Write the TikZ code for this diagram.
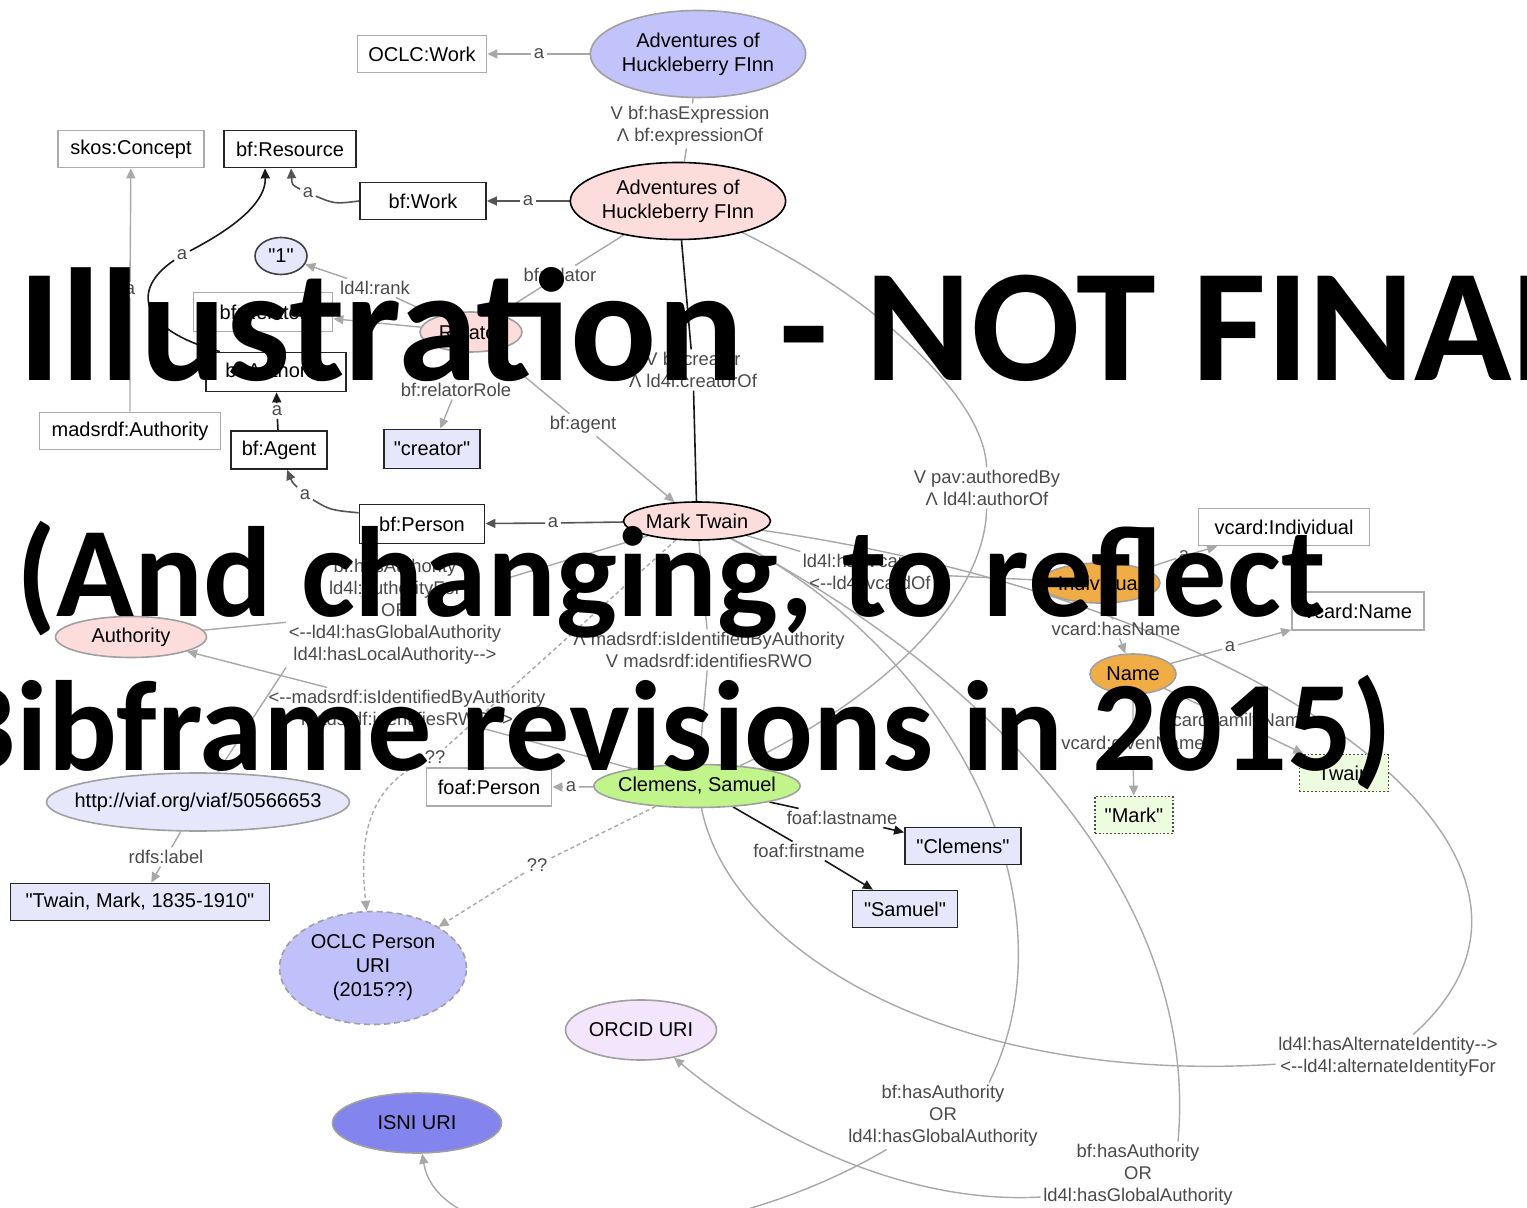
\documentclass[tikz,border=0pt]{standalone}
\usepackage{fontspec}
\setmainfont{Liberation Sans}[Ligatures=TeXOff]
\newfontfamily\ovfont{Carlito}
\usetikzlibrary{arrows.meta,shapes.geometric}
\pgfdeclarelayer{bg}
\pgfsetlayers{bg,main}
\definecolor{boxgray}{HTML}{ABABAB}
\definecolor{ellgray}{HTML}{A0A0A0}
\definecolor{edgegray}{HTML}{A8A8A8}
\definecolor{darkedge}{HTML}{555555}
\definecolor{labgray}{HTML}{4A4A4A}
\definecolor{pinkA}{HTML}{FDDCDC}
\definecolor{blueA}{HTML}{C3C3FB}
\definecolor{blueB}{HTML}{C0C0FA}
\definecolor{lavA}{HTML}{E7E7FB}
\definecolor{orangeA}{HTML}{F0AC45}
\definecolor{greenA}{HTML}{C2F48C}
\definecolor{litgreen}{HTML}{EDFCDE}
\definecolor{purpleA}{HTML}{F3E6FC}
\definecolor{isniA}{HTML}{8484EE}
\tikzset{
  nd/.style 2 args={minimum width=#1*0.5pt, minimum height=#2*0.5pt, inner sep=0pt, align=center},
  gbx/.style={rectangle, draw=boxgray, fill=white, line width=0.9pt},
  bbx/.style={rectangle, draw=black!85, fill=white, line width=0.9pt},
  lbx/.style={rectangle, draw=black!85, fill=lavA, line width=0.9pt},
  dbx/.style={rectangle, draw=black!70, densely dotted, fill=litgreen, line width=0.9pt},
  ell/.style={ellipse, line width=0.8pt},
  lab/.style={font=\fontsize{9.2}{11}\selectfont, text=labgray, inner sep=1.2pt, align=center},
  ge/.style={draw=edgegray, line width=0.7pt},
  de/.style={draw=darkedge, line width=0.8pt},
  be/.style={draw=black!90, line width=0.8pt},
  arw/.style={-{Triangle[length=5pt,width=4.5pt]}},
  dots/.style={dash pattern=on 2pt off 1.5pt},
  ovl/.style={inner sep=0pt, text=black},
}
\begin{document}
\begin{tikzpicture}[x=0.5pt,y=-0.5pt,
  every node/.style={font=\fontsize{10}{12}\selectfont}]
\path[use as bounding box] (0,0) rectangle (1527,1208);
\begin{pgfonlayer}{bg}
\fill[white] (0,0) rectangle (1527,1208);
\end{pgfonlayer}

% ---------- nodes ----------
\node[gbx,nd={129}{37}] (oclcwork) at (422,54) {OCLC:Work};
\node[ell,fill=blueA,draw=ellgray,nd={210}{87}] (ahf1) at (698,54) {Adventures of\\Huckleberry FInn};
\node[lab] (la1) at (539,54) {a};
\node[lab] (lexpr) at (690,126) {V bf:hasExpression\\Λ bf:expressionOf};
\node[ell,fill=pinkA,draw=black,nd={211}{77}] (ahf2) at (678,201) {Adventures of\\Huckleberry FInn};
\node[bbx,nd={126}{37}] (bfwork) at (423,201) {bf:Work};
\node[lab] (la2) at (528,201) {a};
\node[bbx,nd={132}{37}] (bfres) at (290,149) {bf:Resource};
\node[gbx,nd={146}{37}] (skos) at (131,149) {skos:Concept};
\node[lab] (la3) at (308,193) {a};
\node[ell,fill=lavA,draw=black!75,nd={52}{37}] (one) at (281,256) {"1"};
\node[ell,fill=pinkA,draw=ellgray,nd={102}{40}] (relator) at (471,332) {Relator};
\node[lab] (lrank) at (375,288) {ld4l:rank};
\node[gbx,nd={139}{39}] (bfrelator) at (263,312) {bf:Relator};
\node[bbx,nd={140}{39}] (bfauth) at (276,372) {bf:Authority};
\node[lab] (la4) at (182,255) {a};
\node[gbx,nd={181}{37}] (madsauth) at (130,431) {madsrdf:Authority};
\node[lab] (la5) at (130,290) {a};
\node[bbx,nd={96}{38}] (bfagent) at (279,450) {bf:Agent};
\node[lab] (la6) at (277,411) {a};
\node[lbx,nd={96}{39}] (creator) at (432,449) {"creator"};
\node[lab] (lrole) at (456,390) {bf:relatorRole};
\node[bbx,nd={125}{39}] (bfperson) at (422,524) {bf:Person};
\node[lab] (la7) at (305,495) {a};
\node[ell,fill=pinkA,draw=black,nd={147}{38}] (mt) at (697,521) {Mark Twain};
\node[lab] (la8) at (553,523) {a};
\node[lab] (lrelator) at (560,275) {bf:relator};
\node[lab] (lagent) at (583,425) {bf:agent};
\node[lab] (lcreator) at (693,370) {V bf:creator\\Λ ld4l:creatorOf};
\node[lab] (lpav) at (987,488) {V pav:authoredBy\\Λ ld4l:authorOf};
\node[ell,fill=pinkA,draw=ellgray,nd={151}{41}] (authority) at (131,637) {Authority};
\node[lab] (lhasauth) at (395,612) {bf:hasAuthority\\ld4l:authorityFor\\OR\\<-{}-ld4l:hasGlobalAuthority\\ld4l:hasLocalAuthority-{}->};
\node[lab] (lmadsrev) at (407,708) {<-{}-madsrdf:isIdentifiedByAuthority\\madsrdf:identifiesRWO-{}->};
\node[lab] (lmadsmt) at (709,650) {Λ madsrdf:isIdentifiedByAuthority\\V madsrdf:identifiesRWO};
\node[lab] (lvcard) at (870,572) {ld4l:hasVcard-{}->\\<-{}-ld4l:vcardOf};
\node[ell,fill=orangeA,draw=ellgray,nd={120}{40}] (individual) at (1100,583) {Individual};
\node[gbx,nd={171}{37}] (vcardind) at (1284,527) {vcard:Individual};
\node[lab] (la9) at (1184,556) {a};
\node[gbx,nd={132}{38}] (vcardname) at (1358,611) {vcard:Name};
\node[lab] (lhasname) at (1116,629) {vcard:hasName};
\node[ell,fill=orangeA,draw=ellgray,nd={86}{40}] (name) at (1133,674) {Name};
\node[lab] (la10) at (1230,647) {a};
\node[lab] (lgiven) at (1133,745) {vcard:givenName};
\node[dbx,nd={78}{37}] (mark) at (1134,815) {"Mark"};
\node[lab] (lfamily) at (1237,722) {vcard:familyName};
\node[dbx,nd={89}{37}] (twain) at (1344,773) {"Twain"};
\node[lab] (lalt) at (1388,1057) {ld4l:hasAlternateIdentity-{}->\\<-{}-ld4l:alternateIdentityFor};
\node[ell,fill=lavA,draw=ellgray,nd={303}{58},inner xsep=-9.5pt] (viaf) at (198,802) {http://viaf.org/viaf/50566653};
\node[lab] (lrdfs) at (166,857) {rdfs:label};
\node[lbx,nd={259}{37}] (twainlit) at (140,902) {"Twain, Mark, 1835-1910"};
\node[gbx,nd={125}{38}] (foafperson) at (489,787) {foaf:Person};
\node[lab] (la11) at (571,787) {a};
\node[ell,fill=greenA,draw=ellgray,nd={206}{43},inner xsep=-3pt] (clemens) at (697,786) {Clemens, Samuel};
\node[lab] (llast) at (842,818) {foaf:lastname};
\node[lbx,nd={116}{37}] (clemlit) at (963,846) {"Clemens"};
\node[lab] (lfirst) at (809,851) {foaf:firstname};
\node[lbx,nd={105}{37}] (samlit) at (905,909) {"Samuel"};
\node[lab] (lq1) at (435,757) {??};
\node[lab] (lq2) at (537,865) {??};
\node[ell,fill=blueB,draw=ellgray,densely dashed,nd={187}{113}] (oclcp) at (373,968) {OCLC Person\\URI\\(2015??)};
\node[ell,fill=purpleA,draw=ellgray,nd={151}{60}] (orcid) at (641,1030) {ORCID URI};
\node[ell,fill=isniA,draw=ellgray,nd={169}{60}] (isni) at (417,1123) {ISNI URI};
\node[lab] (lha1) at (943,1116) {bf:hasAuthority\\OR\\ld4l:hasGlobalAuthority};
\node[lab] (lha2) at (1138,1175) {bf:hasAuthority\\OR\\ld4l:hasGlobalAuthority};

% ---------- connectors ----------
\begin{pgfonlayer}{bg}
\draw[ge,arw] (ahf1) -- (la1) -- (oclcwork);
\draw[ge] (ahf1) -- (lexpr) -- (ahf2);
\draw[de,arw] (ahf2) -- (la2) -- (bfwork);
\draw[de,arw] (bfwork.west) .. controls (335,204) .. (la3) .. controls (292,185) .. (bfres);
\draw[ge,arw] (relator) -- (lrank) -- (one);
\draw[ge,arw] (relator) -- (bfrelator);
\draw[be,arw] (bfauth.160) .. controls (140,330) and (130,290) .. (la4) .. controls (240,225) and (266,200) .. ([xshift=-12.5pt]bfres.south);
\draw[ge,arw] (madsauth) -- (la5) -- (skos);
\draw[be,arw] (bfagent) -- (la6) -- (bfauth);
\draw[ge,arw] (relator) -- (lrole) -- (creator);
\draw[de,arw] (bfperson.170) .. controls (330,510) .. (la7) .. controls (292,482) .. (bfagent);
\draw[de,arw] (mt) -- (la8) -- (bfperson);
\draw[ge,arw] (ahf2) -- (lrelator) -- (relator);
\draw[ge,arw] (relator) -- (lagent) -- (mt);
\draw[be] (ahf2) -- (lcreator) -- (mt);
\draw[ge] (ahf2) .. controls (880,300) and (985,400) .. (lpav);
\draw[ge] (lpav) .. controls (985,600) and (880,700) .. (clemens);
\draw[ge] (mt) -- (lhasauth) -- (authority);
\draw[ge,arw] (lhasauth.south west) -- (viaf);
\draw[ge,arw] (clemens) -- (lmadsrev) -- (authority);
\draw[ge] (mt) -- (lmadsmt) -- (clemens);
\draw[ge] (mt) -- (lvcard) -- (individual);
\draw[ge,arw] (individual) -- (la9) -- (vcardind);
\draw[ge,arw] (individual) -- (lhasname) -- (name);
\draw[ge,arw] (name) -- (la10) -- (vcardname);
\draw[ge,arw] (name) -- (lgiven) -- (mark);
\draw[ge,arw] (name) -- (lfamily) -- (twain);
\draw[ge] (mt) .. controls (1250,600) and (1620,850) .. (lalt);
\draw[ge] (lalt) .. controls (950,1085) and (730,950) .. (clemens);
\draw[ge,dots] (mt) -- (lq1);
\draw[ge,dots,arw] (lq1) .. controls (362,790) and (360,850) .. (oclcp);
\draw[ge,dots,arw] (clemens) -- (lq2) -- (oclcp);
\draw[ge,arw] (clemens) -- (la11) -- (foafperson);
\draw[be,arw] (clemens) -- (llast) -- (clemlit);
\draw[be,arw] (clemens) -- (lfirst) -- (samlit);
\draw[ge,arw] (viaf) -- (lrdfs) -- (twainlit);
\draw[ge] (mt) .. controls (950,650) and (1080,900) .. ([xshift=23pt]lha1.north);
\draw[ge,arw] (lha1) .. controls (700,1260) and (440,1260) .. (isni);
\draw[ge] (mt) .. controls (1000,680) and (1200,900) .. ([xshift=20pt]lha2.north);
\draw[ge,arw] ([yshift=-11pt]lha2.west) .. controls (900,1205) and (760,1130) .. (orcid);
\end{pgfonlayer}

% ---------- overlay text ----------
\node[ovl,anchor=base west,font={\ovfont\bfseries\fontsize{80.4}{82}\selectfont}] (ov1) at (18,381) {Illustration - NOT FINAL};
\node[ovl,anchor=base west,font={\ovfont\bfseries\fontsize{64.2}{66}\selectfont}] (ov2) at (16,617) {(And changing, to reflect};
\node[ovl,anchor=base east,font={\ovfont\bfseries\fontsize{64.2}{66}\selectfont}] (ov3) at (1393,770) {Bibframe revisions in 2015)};
\end{tikzpicture}
\end{document}
